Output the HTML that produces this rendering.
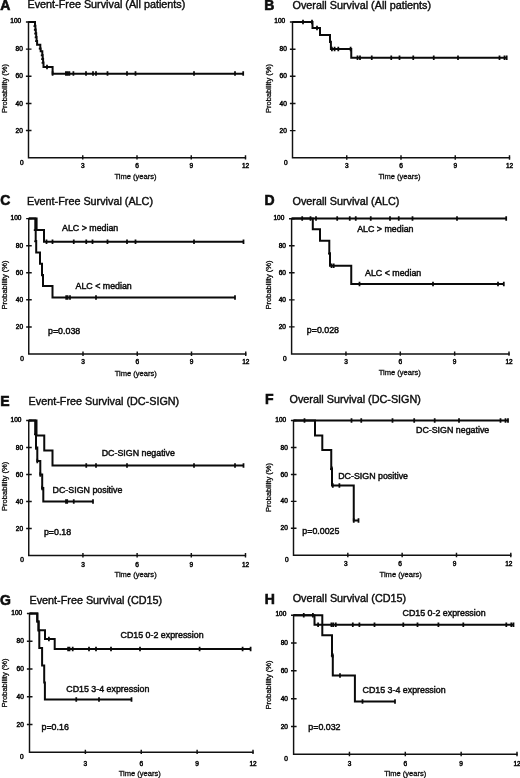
<!DOCTYPE html>
<html lang="en"><head><meta charset="utf-8"><title>Survival curves</title>
<style>html,body{margin:0;padding:0;background:#fff}body{width:520px;height:778px;overflow:hidden}svg{display:block;filter:blur(0.35px)}text{font-family:"Liberation Sans", Arial, Helvetica, sans-serif;fill:#0c0c0c;stroke:#0c0c0c;stroke-width:0.3px;paint-order:stroke}.tk{stroke-width:0.5px}.ax{stroke-width:0.3px}.ti{stroke-width:0.4px}.an{stroke-width:0.45px}.le{stroke-width:0.6px}.ti{font-size:10.8px}.an{font-size:8.85px}.ax{font-size:7.55px}.tk{font-size:6.5px}.le{font-size:14px;font-weight:bold}.c{fill:none;stroke:#0a0a0a;stroke-width:2.0;stroke-linejoin:miter;stroke-linecap:butt}.a{fill:none;stroke:#111;stroke-width:1.45}.t{stroke:#0a0a0a;stroke-width:1.75}</style></head><body>
<svg width="520" height="778" viewBox="0 0 520 778">
<rect width="520" height="778" fill="#fff"/>
<g id="panel-A">
<path class="a" d="M28.5,21.4V157.7H246.1"/>
<path class="a" d="M25.90,130.56h5.6M25.90,103.42h5.6M25.90,76.28h5.6M25.90,49.14h5.6M25.90,22.00h5.6M82.75,155.20v4.4M137.00,155.20v4.4M191.25,155.20v4.4M245.50,155.20v4.4"/>
<text class="tk" x="23.60" y="164.60" text-anchor="end">0</text>
<text class="tk" x="22.80" y="132.66" text-anchor="end">20</text>
<text class="tk" x="22.80" y="105.52" text-anchor="end">40</text>
<text class="tk" x="22.80" y="78.38" text-anchor="end">60</text>
<text class="tk" x="22.80" y="51.24" text-anchor="end">80</text>
<text class="tk" x="21.20" y="23.20" text-anchor="end">100</text>
<text class="tk" x="82.75" y="167.8" text-anchor="middle">3</text>
<text class="tk" x="137.00" y="167.8" text-anchor="middle">6</text>
<text class="tk" x="191.25" y="167.8" text-anchor="middle">9</text>
<text class="tk" x="245.50" y="167.8" text-anchor="middle">12</text>
<text class="ax" x="135.50" y="179" text-anchor="middle">Time (years)</text>
<text class="ax" transform="translate(7.0,88.5) rotate(-90)" text-anchor="middle">Probability (%)</text>
<text class="le" x="0.3" y="9.6">A</text>
<text class="ti" x="27.5" y="8.3">Event-Free Survival (All patients)</text>
<path class="c" d="M28.5,22H35V25.8H35.4V29.6H35.8V33.3H36.2V37.1H36.6V40.9H37.1V44.7H40.3V48.4H40.7V51.2H42.3V55H42.7V58.8H43.1V62.6H43.5V67.1H52.6V73.7H243.2"/>
<path class="t" d="M33.50,26.10h1.2M33.90,29.90h1.2M34.30,33.60h1.2M34.70,37.40h1.2M35.20,41.20h1.2M38.80,48.70h1.2M40.80,55.30h1.2M41.20,59.10h1.2M41.60,62.90h1.2"/>
<path class="t" d="M47,64.85v4.5M52.6,71.35v4.5M65.9,71.35v4.5M67.6,71.35v4.5M69.4,71.35v4.5M73.4,71.35v4.5M86,71.35v4.5M93,71.35v4.5M96,71.35v4.5M107.5,71.35v4.5M127,71.35v4.5M135.5,71.35v4.5M194,71.35v4.5M235,71.35v4.5M243.2,71.35v4.5"/>
</g>
<g id="panel-B">
<path class="a" d="M292.5,21.4V157.8H510.1"/>
<path class="a" d="M289.90,130.64h5.6M289.90,103.48h5.6M289.90,76.32h5.6M289.90,49.16h5.6M289.90,22.00h5.6M346.75,155.30v4.4M401.00,155.30v4.4M455.25,155.30v4.4M509.50,155.30v4.4"/>
<text class="tk" x="287.60" y="164.70" text-anchor="end">0</text>
<text class="tk" x="286.80" y="132.74" text-anchor="end">20</text>
<text class="tk" x="286.80" y="105.58" text-anchor="end">40</text>
<text class="tk" x="286.80" y="78.42" text-anchor="end">60</text>
<text class="tk" x="286.80" y="51.26" text-anchor="end">80</text>
<text class="tk" x="285.20" y="23.20" text-anchor="end">100</text>
<text class="tk" x="346.75" y="168.2" text-anchor="middle">3</text>
<text class="tk" x="401.00" y="168.2" text-anchor="middle">6</text>
<text class="tk" x="455.25" y="168.2" text-anchor="middle">9</text>
<text class="tk" x="509.50" y="168.2" text-anchor="middle">12</text>
<text class="ax" x="399.50" y="179" text-anchor="middle">Time (years)</text>
<text class="ax" transform="translate(270.8,88.5) rotate(-90)" text-anchor="middle">Probability (%)</text>
<text class="le" x="264.2" y="10.2">B</text>
<text class="ti" x="292.5" y="9.3">Overall Survival (All patients)</text>
<path class="c" d="M292.5,22H312.5V28H320V35H330V41.8H330.9V48.9H351.25V57.8H507"/>
<path class="t" d="M329.00,42.10h1.2"/>
<path class="t" d="M303,19.75v4.5M312,19.75v4.5M317,25.75v4.5M331.9,46.65v4.5M334.6,46.65v4.5M338.3,46.65v4.5M350.6,46.65v4.5M357.5,55.55v4.5M360,55.55v4.5M371.75,55.55v4.5M391.25,55.55v4.5M399.5,55.55v4.5M413.25,55.55v4.5M433.75,55.55v4.5M458,55.55v4.5M499.5,55.55v4.5M504.5,55.55v4.5M506.7,55.55v4.5"/>
</g>
<g id="panel-C">
<path class="a" d="M28.75,218.0V354H246.35"/>
<path class="a" d="M26.15,326.92h5.6M26.15,299.84h5.6M26.15,272.76h5.6M26.15,245.68h5.6M26.15,218.60h5.6M83.00,351.50v4.4M137.25,351.50v4.4M191.50,351.50v4.4M245.75,351.50v4.4"/>
<text class="tk" x="23.85" y="360.90" text-anchor="end">0</text>
<text class="tk" x="23.05" y="329.02" text-anchor="end">20</text>
<text class="tk" x="23.05" y="301.94" text-anchor="end">40</text>
<text class="tk" x="23.05" y="274.86" text-anchor="end">60</text>
<text class="tk" x="23.05" y="247.78" text-anchor="end">80</text>
<text class="tk" x="21.45" y="219.80" text-anchor="end">100</text>
<text class="tk" x="83.00" y="364" text-anchor="middle">3</text>
<text class="tk" x="137.25" y="364" text-anchor="middle">6</text>
<text class="tk" x="191.50" y="364" text-anchor="middle">9</text>
<text class="tk" x="245.75" y="364" text-anchor="middle">12</text>
<text class="ax" x="135.75" y="376.3" text-anchor="middle">Time (years)</text>
<text class="ax" transform="translate(7.0,285) rotate(-90)" text-anchor="middle">Probability (%)</text>
<text class="le" x="0.3" y="205.4">C</text>
<text class="ti" x="27" y="204.6">Event-Free Survival (ALC)</text>
<path class="c" d="M28.75,218.5H36.6V230.0H44V241.8H243.5"/>
<path class="t" d="M46.5,239.55v4.5M52.5,239.55v4.5M73.75,239.55v4.5M86.25,239.55v4.5M92.5,239.55v4.5M107.5,239.55v4.5M127,239.55v4.5M135.5,239.55v4.5M194,239.55v4.5M243.5,239.55v4.5"/>
<path class="c" d="M28.75,218.5H35.3V229.8H35.7V241.1H36.2V252.4H40V263.7H42V275.0H43V286.0H52.5V297.5H235"/>
<path class="t" d="M33.80,230.10h1.2M34.30,241.40h1.2M41.10,275.30h1.2"/>
<path class="t" d="M66.2,295.25v4.5M67.6,295.25v4.5M70,295.25v4.5M96,295.25v4.5M235,295.25v4.5"/>
<text class="an" x="62" y="231.3">ALC &gt; median</text>
<text class="an" x="75.5" y="288.8">ALC &lt; median</text>
<text class="an" x="48" y="334.3">p=0.038</text>
</g>
<g id="panel-D">
<path class="a" d="M291.6,218.20000000000002V353.9H509.6"/>
<path class="a" d="M289.00,326.88h5.6M289.00,299.86h5.6M289.00,272.84h5.6M289.00,245.82h5.6M289.00,218.80h5.6M345.95,351.40v4.4M400.30,351.40v4.4M454.65,351.40v4.4M509.00,351.40v4.4"/>
<text class="tk" x="286.70" y="360.80" text-anchor="end">0</text>
<text class="tk" x="285.90" y="328.98" text-anchor="end">20</text>
<text class="tk" x="285.90" y="301.96" text-anchor="end">40</text>
<text class="tk" x="285.90" y="274.94" text-anchor="end">60</text>
<text class="tk" x="285.90" y="247.92" text-anchor="end">80</text>
<text class="tk" x="284.30" y="220.00" text-anchor="end">100</text>
<text class="tk" x="345.95" y="364" text-anchor="middle">3</text>
<text class="tk" x="400.30" y="364" text-anchor="middle">6</text>
<text class="tk" x="454.65" y="364" text-anchor="middle">9</text>
<text class="tk" x="509.00" y="364" text-anchor="middle">12</text>
<text class="ax" x="399.80" y="375.2" text-anchor="middle">Time (years)</text>
<text class="ax" transform="translate(270.6,285) rotate(-90)" text-anchor="middle">Probability (%)</text>
<text class="le" x="264.5" y="205.2">D</text>
<text class="ti" x="292.5" y="204.6">Overall Survival (ALC)</text>
<path class="c" d="M291.6,218.6H506.2"/>
<path class="t" d="M302.2,216.35v4.5M310.5,216.35v4.5M316,216.35v4.5M337.2,216.35v4.5M349.75,216.35v4.5M355.75,216.35v4.5M370.75,216.35v4.5M390,216.35v4.5M398.75,216.35v4.5M412.5,216.35v4.5M457,216.35v4.5M506.2,216.35v4.5"/>
<path class="c" d="M291.6,218.6H312.8V229.3H320V240.8H329.3V253.2H330V265.8H351.25V283.9H503.8"/>
<path class="t" d="M328.10,253.50h1.2"/>
<path class="t" d="M331.5,263.55v4.5M333.7,263.55v4.5M359.5,281.65v4.5M433,281.65v4.5M498,281.65v4.5M503.8,281.65v4.5"/>
<text class="an" x="357.2" y="232">ALC &gt; median</text>
<text class="an" x="365" y="275.6">ALC &lt; median</text>
<text class="an" x="306.8" y="333.4">p=0.028</text>
</g>
<g id="panel-E">
<path class="a" d="M28.75,419.9V555.5H246.1"/>
<path class="a" d="M26.15,528.50h5.6M26.15,501.50h5.6M26.15,474.50h5.6M26.15,447.50h5.6M26.15,420.50h5.6M82.94,553.00v4.4M137.12,553.00v4.4M191.31,553.00v4.4M245.50,553.00v4.4"/>
<text class="tk" x="23.85" y="562.40" text-anchor="end">0</text>
<text class="tk" x="23.05" y="530.60" text-anchor="end">20</text>
<text class="tk" x="23.05" y="503.60" text-anchor="end">40</text>
<text class="tk" x="23.05" y="476.60" text-anchor="end">60</text>
<text class="tk" x="23.05" y="449.60" text-anchor="end">80</text>
<text class="tk" x="21.45" y="421.70" text-anchor="end">100</text>
<text class="tk" x="82.94" y="566.5" text-anchor="middle">3</text>
<text class="tk" x="137.12" y="566.5" text-anchor="middle">6</text>
<text class="tk" x="191.31" y="566.5" text-anchor="middle">9</text>
<text class="tk" x="245.50" y="566.5" text-anchor="middle">12</text>
<text class="ax" x="135.62" y="577.2" text-anchor="middle">Time (years)</text>
<text class="ax" transform="translate(7.0,486.4) rotate(-90)" text-anchor="middle">Probability (%)</text>
<text class="le" x="0.3" y="405.6">E</text>
<text class="ti" x="28.6" y="404.6">Event-Free Survival (DC-SIGN)</text>
<path class="c" d="M28.75,420.5H36.5V435.5H44.25V450.4H52.5V465.5H243.5"/>
<path class="t" d="M86.25,463.25v4.5M96,463.25v4.5M127,463.25v4.5M194,463.25v4.5M235,463.25v4.5M243.5,463.25v4.5"/>
<path class="c" d="M28.75,420.5H35.2V434H36.0V447.5H37.3V461H40.3V474.5H42.2V488H43.3V501.5H93"/>
<path class="t" d="M34.10,434.30h1.2M35.40,447.80h1.2M41.40,488.30h1.2"/>
<path class="t" d="M36.0,445.25v4.5M37.3,458.75v4.5M40.3,472.25v4.5M42.2,485.75v4.5M66,499.25v4.5M67.2,499.25v4.5M73.75,499.25v4.5M93,499.25v4.5"/>
<text class="an" x="101.7" y="456.3">DC-SIGN negative</text>
<text class="an" x="52.6" y="493.3">DC-SIGN positive</text>
<text class="an" x="43.9" y="535">p=0.18</text>
</g>
<g id="panel-F">
<path class="a" d="M293.5,419.9V555.3H511.40000000000003"/>
<path class="a" d="M290.90,528.34h5.6M290.90,501.38h5.6M290.90,474.42h5.6M290.90,447.46h5.6M290.90,420.50h5.6M347.82,552.80v4.4M402.15,552.80v4.4M456.48,552.80v4.4M510.80,552.80v4.4"/>
<text class="tk" x="288.60" y="562.20" text-anchor="end">0</text>
<text class="tk" x="287.80" y="530.44" text-anchor="end">20</text>
<text class="tk" x="287.80" y="503.48" text-anchor="end">40</text>
<text class="tk" x="287.80" y="476.52" text-anchor="end">60</text>
<text class="tk" x="287.80" y="449.56" text-anchor="end">80</text>
<text class="tk" x="286.20" y="421.70" text-anchor="end">100</text>
<text class="tk" x="345.82" y="566" text-anchor="middle">3</text>
<text class="tk" x="400.15" y="566" text-anchor="middle">6</text>
<text class="tk" x="454.48" y="566" text-anchor="middle">9</text>
<text class="tk" x="508.80" y="566" text-anchor="middle">12</text>
<text class="ax" x="400.65" y="577.2" text-anchor="middle">Time (years)</text>
<text class="ax" transform="translate(271.3,487.5) rotate(-90)" text-anchor="middle">Probability (%)</text>
<text class="le" x="265" y="403.8">F</text>
<text class="ti" x="289.5" y="402.6">Overall Survival (DC-SIGN)</text>
<path class="c" d="M293.5,420.5H508.2"/>
<path class="t" d="M304.5,418.25v4.5M351.5,418.25v4.5M361.25,418.25v4.5M392.5,418.25v4.5M414.2,418.25v4.5M434.7,418.25v4.5M459,418.25v4.5M500.5,418.25v4.5M505.5,418.25v4.5M508,418.25v4.5"/>
<path class="c" d="M293.5,420.5H315V435.5H322.3V450H331.25V468.75H332V485.5H353.75V520.5H358.7"/>
<path class="t" d="M330.10,469.05h1.2"/>
<path class="t" d="M331.8,466.5v4.5M332.8,483.25v4.5M339.4,483.25v4.5M353.75,518.25v4.5M358.5,518.25v4.5"/>
<text class="an" x="416" y="432.6">DC-SIGN negative</text>
<text class="an" x="338.2" y="478.8">DC-SIGN positive</text>
<text class="an" x="302.3" y="533.8">p=0.0025</text>
</g>
<g id="panel-G">
<path class="a" d="M29.5,612.9V752.2H253.6"/>
<path class="a" d="M26.90,724.46h5.6M26.90,696.72h5.6M26.90,668.98h5.6M26.90,641.24h5.6M26.90,613.50h5.6M85.38,749.70v4.4M141.25,749.70v4.4M197.12,749.70v4.4M253.00,749.70v4.4"/>
<text class="tk" x="23.70" y="759.10" text-anchor="end">0</text>
<text class="tk" x="23.80" y="726.56" text-anchor="end">20</text>
<text class="tk" x="23.80" y="698.82" text-anchor="end">40</text>
<text class="tk" x="23.80" y="671.08" text-anchor="end">60</text>
<text class="tk" x="23.80" y="643.34" text-anchor="end">80</text>
<text class="tk" x="22.20" y="614.70" text-anchor="end">100</text>
<text class="tk" x="85.38" y="765.5" text-anchor="middle">3</text>
<text class="tk" x="141.25" y="765.5" text-anchor="middle">6</text>
<text class="tk" x="197.12" y="765.5" text-anchor="middle">9</text>
<text class="tk" x="253.00" y="765.5" text-anchor="middle">12</text>
<text class="ax" x="139.75" y="776" text-anchor="middle">Time (years)</text>
<text class="ax" transform="translate(7.0,683) rotate(-90)" text-anchor="middle">Probability (%)</text>
<text class="le" x="0" y="605.2">G</text>
<text class="ti" x="29.5" y="604.3">Event-Free Survival (CD15)</text>
<path class="c" d="M29.5,613.5H37.4V621.6H38.5V630.3H45V639H54.7V649H250.6"/>
<path class="t" d="M48.9,636.75v4.5M68.1,646.75v4.5M69.5,646.75v4.5M72.7,646.75v4.5M89,646.75v4.5M96,646.75v4.5M111,646.75v4.5M140,646.75v4.5M199.6,646.75v4.5M242.6,646.75v4.5M250.6,646.75v4.5"/>
<path class="c" d="M29.5,613.5H37.2V621.6H38.6V630.5H39.3V648H42.1V665.5H44.2V682.5H44.9V699.6H131.5"/>
<path class="t" d="M76.25,697.35v4.5M99,697.35v4.5M131.5,697.35v4.5"/>
<text class="an" x="120.5" y="638.4">CD15 0-2 expression</text>
<text class="an" x="66.3" y="691.8">CD15 3-4 expression</text>
<text class="an" x="41.5" y="729.6">p=0.16</text>
</g>
<g id="panel-H">
<path class="a" d="M293.6,614.6V754.3H517.6"/>
<path class="a" d="M291.00,726.48h5.6M291.00,698.66h5.6M291.00,670.84h5.6M291.00,643.02h5.6M291.00,615.20h5.6M349.45,751.80v4.4M405.30,751.80v4.4M461.15,751.80v4.4M517.00,751.80v4.4"/>
<text class="tk" x="287.90" y="761.20" text-anchor="end">0</text>
<text class="tk" x="287.90" y="728.58" text-anchor="end">20</text>
<text class="tk" x="287.90" y="700.76" text-anchor="end">40</text>
<text class="tk" x="287.90" y="672.94" text-anchor="end">60</text>
<text class="tk" x="287.90" y="645.12" text-anchor="end">80</text>
<text class="tk" x="286.30" y="616.40" text-anchor="end">100</text>
<text class="tk" x="349.45" y="765.5" text-anchor="middle">3</text>
<text class="tk" x="405.30" y="765.5" text-anchor="middle">6</text>
<text class="tk" x="461.15" y="765.5" text-anchor="middle">9</text>
<text class="tk" x="517.00" y="765.5" text-anchor="middle">12</text>
<text class="ax" x="405.30" y="775.6" text-anchor="middle">Time (years)</text>
<text class="ax" transform="translate(271.3,685) rotate(-90)" text-anchor="middle">Probability (%)</text>
<text class="le" x="264.8" y="603.6">H</text>
<text class="ti" x="292.7" y="602.3">Overall Survival (CD15)</text>
<path class="c" d="M293.6,615.2H314.5V624.8H514"/>
<path class="t" d="M303.75,612.95v4.5M312.9,612.95v4.5M318.1,622.55v4.5M331.4,622.55v4.5M333.3,622.55v4.5M335.8,622.55v4.5M352.8,622.55v4.5M359.4,622.55v4.5M374.5,622.55v4.5M403.3,622.55v4.5M417.5,622.55v4.5M438.4,622.55v4.5M463.3,622.55v4.5M506.3,622.55v4.5M511.3,622.55v4.5M513.5,622.55v4.5"/>
<path class="c" d="M293.6,615.2H322.3V635.3H332V655.5H332.8V675.6H354.9V701.6H395"/>
<path class="t" d="M330.90,655.80h1.2"/>
<path class="t" d="M332.6,653.25v4.5M340,673.35v4.5M362.5,699.35v4.5M395,699.35v4.5"/>
<text class="an" x="402.5" y="616.3">CD15 0-2 expression</text>
<text class="an" x="362.5" y="693">CD15 3-4 expression</text>
<text class="an" x="308.3" y="730">p=0.032</text>
</g>
</svg></body></html>
